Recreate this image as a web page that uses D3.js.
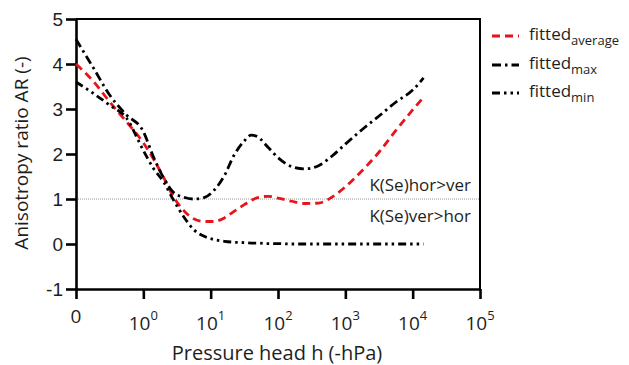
<!DOCTYPE html>
<html>
<head>
<meta charset="utf-8">
<script src="https://cdn.jsdelivr.net/npm/d3@7"></script>
<style>
  html, body { margin: 0; padding: 0; background: #fff; }
  svg { display: block; font-family: "Open Sans", "Noto Sans", sans-serif; }
</style>
</head>
<body>
<svg id="chart" width="629" height="365"></svg>
<script>
// Pressure head h (-hPa); 0 is drawn at the left end of the log axis
const pressureHead = [0, 0.18, 0.32, 0.56, 1, 1.4, 2, 2.8, 4, 5.6, 8, 11, 16, 22, 32, 40, 50, 71,
  100, 160, 250, 400, 630, 1000, 1800, 3200, 5600, 10000, 14500];

// Anisotropy ratio AR (-) of the fitted curves
const fittedAverage = [4.0, 3.62, 3.15, 2.72, 2.25, 1.9, 1.48, 1.05, 0.74, 0.56, 0.5, 0.5, 0.58, 0.72,
  0.88, 0.97, 1.03, 1.06, 1.02, 0.95, 0.9, 0.91, 1.04, 1.27, 1.64, 2.05, 2.52, 2.98, 3.26];
const fittedMax = [4.55, 3.92, 3.3, 2.87, 2.5, 1.95, 1.47, 1.15, 1.04, 1.0, 1.03, 1.18, 1.52, 1.96,
  2.3, 2.42, 2.38, 2.15, 1.92, 1.72, 1.67, 1.74, 1.95, 2.22, 2.55, 2.85, 3.15, 3.42, 3.69];
const fittedMin = [3.6, 3.35, 3.08, 2.8, 2.08, 1.69, 1.38, 0.98, 0.6, 0.32, 0.17, 0.1, 0.06, 0.04,
  0.03, 0.02, 0.02, 0.01, 0.01, 0, 0, 0, 0, 0, 0, 0, 0, 0, 0];

const xTickValues = [0, 1, 10, 100, 1000, 10000, 100000];
const xTickExponents = [null, 0, 1, 2, 3, 4, 5];
const yTickValues = [-1, 0, 1, 2, 3, 4, 5];

const seriesNames = ["average", "max", "min"];
const seriesValues = [fittedAverage, fittedMax, fittedMin];
const seriesColors = ["#e8141c", "#000", "#000"];
const seriesDashes = ["8,5", "9,4,2.5,4", "8,4,2.5,4,2.5,4"];

const svg = d3.select("#chart");
const plotLeft = 76, plotRight = 480, plotTop = 19, plotBottom = 289;
const textColor = "#1e1e1e";

const logX = d3.scaleLog().domain([0.1, 1e5]).range([plotLeft, plotRight]);
const x = h => (h <= 0 ? logX(0.1) : logX(h));
const y = d3.scaleLinear().domain([-1, 5]).range([plotBottom, plotTop]);

// reference line AR = 1
svg.append("line")
  .attr("x1", plotLeft).attr("x2", plotRight)
  .attr("y1", y(1)).attr("y2", y(1))
  .attr("stroke", "#9a9a9a").attr("stroke-width", 1)
  .attr("stroke-dasharray", "1,1");

// frame: top and right borders
svg.append("path")
  .attr("d", `M${plotLeft},${plotTop}H${plotRight}V${y(-1)}`)
  .attr("fill", "none").attr("stroke", "#000").attr("stroke-width", 2);

// y axis
const yAxis = svg.append("g")
  .attr("transform", `translate(${plotLeft},0)`)
  .call(d3.axisLeft(y).tickValues(yTickValues).tickFormat(d3.format("d"))
    .tickSize(10).tickSizeOuter(0));
yAxis.select(".domain").attr("stroke-width", 2.6);
yAxis.selectAll(".tick line").attr("stroke-width", 2.6);
yAxis.selectAll(".tick text")
  .attr("x", -13).attr("dy", "0.36em")
  .style("font-size", "19px").attr("fill", textColor)
  .text(d => d < 0 ? "-" + Math.abs(d) : d);

// x axis
const xAxis = svg.append("g")
  .attr("transform", `translate(0,${y(-1)})`)
  .call(d3.axisBottom(logX).tickValues(xTickValues.map(v => v === 0 ? 0.1 : v))
    .tickFormat(() => "").tickSize(10).tickSizeOuter(0));
xAxis.select(".domain").attr("stroke-width", 2.6);
xAxis.selectAll(".tick line").attr("stroke-width", 2.6);
xAxis.selectAll(".tick text").remove();

const xLabels = svg.append("g").attr("fill", textColor);
xTickValues.forEach((v, i) => {
  const t = xLabels.append("text")
    .attr("x", x(v)).attr("text-anchor", "middle")
    .style("font-size", "19px");
  if (xTickExponents[i] === null) {
    t.attr("y", 323).text("0");
  } else {
    t.attr("y", 330);
    t.append("tspan").text("10");
    t.append("tspan").attr("dy", -10).style("font-size", "13px").text(xTickExponents[i]);
  }
});

// axis titles
svg.append("text")
  .attr("x", 277).attr("y", 360)
  .attr("text-anchor", "middle").style("font-size", "20px").attr("fill", textColor)
  .text("Pressure head h (-hPa)");
svg.append("text")
  .attr("transform", `translate(28,${(plotTop + plotBottom) / 2 - 1}) rotate(-90)`)
  .attr("text-anchor", "middle").style("font-size", "19px").attr("fill", textColor)
  .text("Anisotropy ratio AR (-)");

// annotations either side of AR = 1
svg.append("text")
  .attr("x", 471).attr("y", 191).attr("text-anchor", "end")
  .style("font-size", "17px").attr("fill", textColor).text("K(Se)hor>ver");
svg.append("text")
  .attr("x", 471).attr("y", 222).attr("text-anchor", "end")
  .style("font-size", "17px").attr("fill", textColor).text("K(Se)ver>hor");

// fitted curves
const line = d3.line()
  .x(d => x(d[0]))
  .y(d => y(d[1]))
  .curve(d3.curveMonotoneX);

seriesValues.forEach((vals, i) => {
  svg.append("path")
    .datum(pressureHead.map((h, j) => [h, vals[j]]))
    .attr("d", line)
    .attr("fill", "none")
    .attr("stroke", seriesColors[i])
    .attr("stroke-width", 2.8)
    .attr("stroke-dasharray", seriesDashes[i]);
});

// legend
const legendY = [36, 65, 93];
const legend = svg.append("g");
seriesNames.forEach((name, i) => {
  legend.append("line")
    .attr("x1", 492).attr("x2", 519)
    .attr("y1", legendY[i]).attr("y2", legendY[i])
    .attr("stroke", seriesColors[i]).attr("stroke-width", 2.8)
    .attr("stroke-dasharray", seriesDashes[i]);
  const t = legend.append("text")
    .attr("x", 529).attr("y", legendY[i] + 4)
    .style("font-size", "17px").attr("fill", textColor);
  t.append("tspan").text("fitted");
  t.append("tspan").attr("dy", 5).style("font-size", "13px").text(name);
});
</script>
</body>
</html>
